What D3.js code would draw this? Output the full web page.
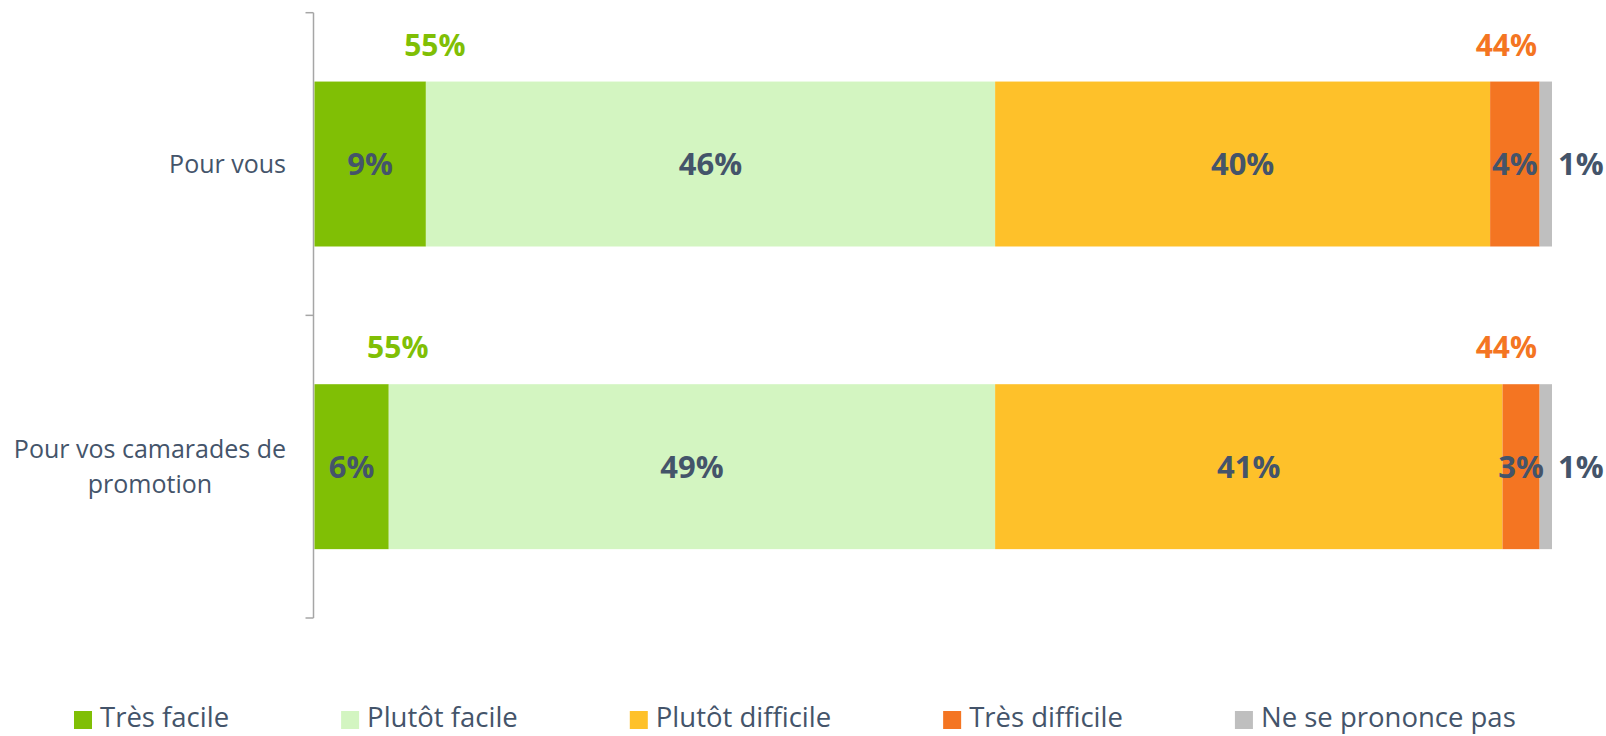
<!DOCTYPE html>
<html>
<head>
<meta charset="utf-8">
<script src="https://cdn.jsdelivr.net/npm/d3@7"></script>
<style>
  body { margin: 0; background: #fff; }
  svg { display: block; font-family: "Open Sans", sans-serif; }
</style>
</head>
<body>
<svg id="chart" width="1606" height="736"></svg>
<script>
// data
var categories = ["Pour vous", "Pour vos camarades de promotion"];
var seriesNames = ["Très facile", "Plutôt facile", "Plutôt difficile", "Très difficile", "Ne se prononce pas"];
var seriesColors = ["#80BF05", "#D3F5C1", "#FEC12A", "#F47522", "#BFBFBF"];
var tresFacile = [9, 6];
var plutotFacile = [46, 49];
var plutotDifficile = [40, 41];
var tresDifficile = [4, 3];
var nsp = [1, 1];
var totalFacile = [55, 55];
var totalDifficile = [44, 44];

var textColor = "#44546A";

var svg = d3.select("#chart");

var rows = categories.map(function(c, i) {
    return {cat: c, "Très facile": tresFacile[i], "Plutôt facile": plutotFacile[i],
            "Plutôt difficile": plutotDifficile[i], "Très difficile": tresDifficile[i],
            "Ne se prononce pas": nsp[i], facile: totalFacile[i], difficile: totalDifficile[i]};
});

var stack = d3.stack().keys(seriesNames);
var layers = stack(rows);

var x = d3.scaleLinear().domain([0, 100]).range([314.5, 1552]);
// outer scale: band boundaries -> axis ticks
var yOuter = d3.scaleBand().domain(categories).range([12.7, 618]).padding(0);
var y = d3.scaleBand().domain(categories).range([12.7, 618])
          .paddingInner(0.455).paddingOuter(0.2275);
var color = d3.scaleOrdinal().domain(seriesNames).range(seriesColors);

// axis: vertical line with ticks at band edges
var axisX = 313.5;
var ax = svg.append("g").attr("class", "axis");
ax.append("line")
    .attr("x1", axisX).attr("x2", axisX)
    .attr("y1", yOuter.range()[0]).attr("y2", yOuter.range()[1])
    .attr("stroke", "#A6A6A6").attr("stroke-width", 1.5);
var tickYs = categories.map(function(c){ return yOuter(c); }).concat([yOuter.range()[1]]);
ax.selectAll("line.tick").data(tickYs).enter().append("line")
    .attr("class", "tick")
    .attr("x1", axisX - 8).attr("x2", axisX)
    .attr("y1", function(d){ return d; }).attr("y2", function(d){ return d; })
    .attr("stroke", "#A6A6A6").attr("stroke-width", 1.5);

// bars
var g = svg.append("g");
layers.forEach(function(layer) {
    g.selectAll("rect.s" + layer.index).data(layer).enter().append("rect")
        .attr("x", function(d){ return x(d[0]); })
        .attr("y", function(d){ return y(d.data.cat); })
        .attr("width", function(d){ return x(d[1]) - x(d[0]); })
        .attr("height", y.bandwidth())
        .attr("fill", color(layer.key));
});

// value labels
layers.forEach(function(layer) {
    var outside = layer.key === "Ne se prononce pas";
    g.selectAll("text.v" + layer.index).data(layer).enter().append("text")
        .attr("x", function(d){ return outside ? x(d[1]) + 6 : (x(d[0]) + x(d[1])) / 2; })
        .attr("y", function(d){ return y(d.data.cat) + y.bandwidth() / 2; })
        .attr("dy", "0.36em")
        .attr("text-anchor", outside ? "start" : "middle")
        .attr("font-size", 31).attr("font-weight", "bold")
        .attr("fill", textColor)
        .text(function(d){ return (d[1] - d[0]) + "%"; });
});

// totals above bars
g.selectAll("text.tf").data(rows).enter().append("text")
    .attr("x", function(d){ return x(d["Très facile"]) + 9; })
    .attr("y", function(d){ return y(d.cat) - 26; })
    .attr("text-anchor", "middle")
    .attr("font-size", 30).attr("font-weight", "bold")
    .attr("fill", "#80BF05")
    .text(function(d){ return d.facile + "%"; });
g.selectAll("text.td").data(rows).enter().append("text")
    .attr("x", x(100) - 15)
    .attr("y", function(d){ return y(d.cat) - 26; })
    .attr("text-anchor", "end")
    .attr("font-size", 30).attr("font-weight", "bold")
    .attr("fill", "#F47522")
    .text(function(d){ return d.difficile + "%"; });

// category labels, wrapped and centered as a block right-aligned to 286
var labelRight = 286, maxW = 285, lh = 35;
categories.forEach(function(c) {
    var t = svg.append("text").attr("font-size", 25).attr("fill", textColor)
        .attr("text-anchor", "middle");
    var words = c.split(" "), lines = [], cur = [];
    var probe = svg.append("text").attr("font-size", 25);
    words.forEach(function(w) {
        var test = cur.concat([w]).join(" ");
        probe.text(test);
        if (probe.node().getComputedTextLength() > maxW && cur.length) {
            lines.push(cur.join(" "));
            cur = [w];
        } else cur.push(w);
    });
    lines.push(cur.join(" "));
    var widest = d3.max(lines, function(l){ probe.text(l); return probe.node().getComputedTextLength(); });
    probe.remove();
    var cx = labelRight - widest / 2;
    var cy = y(c) + y.bandwidth() / 2;
    var y0 = cy - (lines.length - 1) * lh / 2;
    lines.forEach(function(l, i) {
        t.append("tspan").attr("x", cx).attr("y", y0 + i * lh).attr("dy", "0.36em").text(l);
    });
});

// legend
var lg = svg.append("g").attr("transform", "translate(0,718)");
var lx = 74;
seriesNames.forEach(function(s) {
    lg.append("rect").attr("x", lx).attr("y", -7).attr("width", 18).attr("height", 18)
        .attr("fill", color(s));
    var t = lg.append("text").attr("x", lx + 26).attr("y", 0).attr("dy", "0.33em")
        .attr("font-size", 27.5).attr("fill", textColor).text(s);
    lx = lx + 26 + t.node().getComputedTextLength() + 112;
});
</script>
</body>
</html>
